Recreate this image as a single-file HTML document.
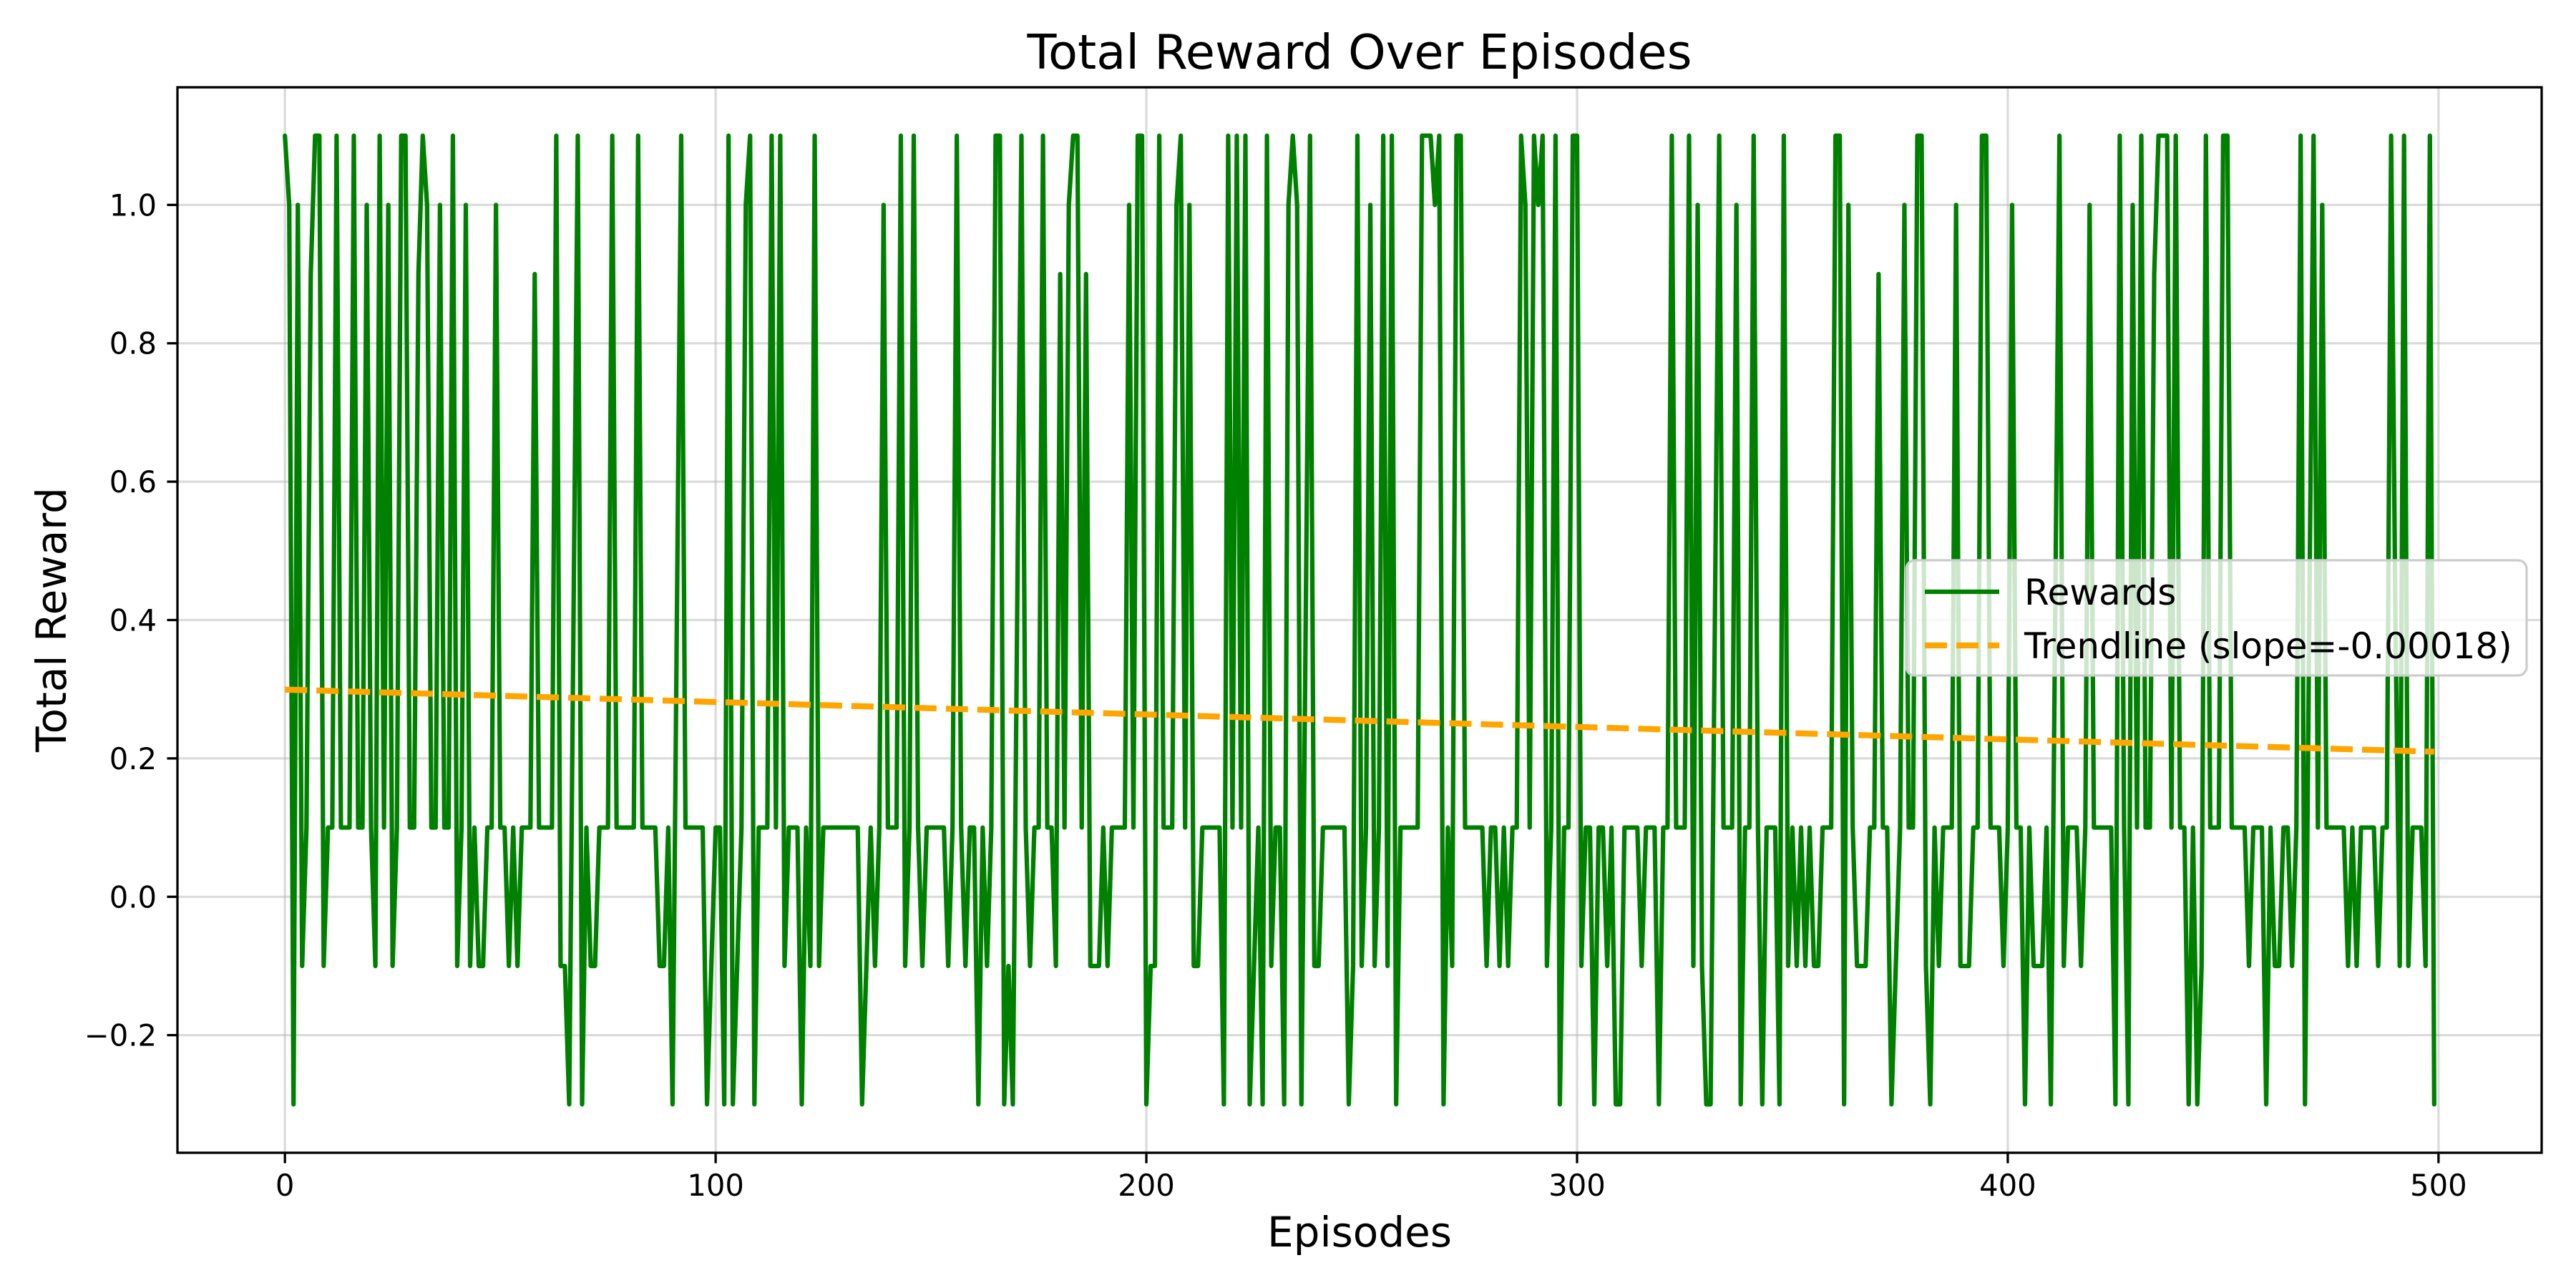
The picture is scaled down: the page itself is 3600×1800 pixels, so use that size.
<!DOCTYPE html>
<html><head><meta charset="utf-8"><title>Total Reward Over Episodes</title>
<style>
html,body{margin:0;padding:0;background:#fff;}
svg{display:block;font-family:"DejaVu Sans","Liberation Sans",sans-serif;}
</style></head>
<body>
<svg id="chart" width="3600" height="1800" viewBox="0 0 3600 1800" xmlns="http://www.w3.org/2000/svg">
  <rect x="0" y="0" width="3600" height="1800" fill="#fff"/>
  <g id="grid"></g>
  <g id="series"></g>
  <rect x="248" y="122" width="3304" height="1489" fill="none" stroke="#000" stroke-width="3.3"/>
  <g id="ticks"></g>
  <text x="1900" y="96" font-size="67" text-anchor="middle">Total Reward Over Episodes</text>
  <text x="1900" y="1742" font-size="58" text-anchor="middle">Episodes</text>
  <text x="0" y="0" font-size="58" text-anchor="middle" transform="translate(92,866) rotate(-90)">Total Reward</text>
  <g>
    <rect x="2664" y="783" width="867" height="161" rx="12" fill="#fff" fill-opacity="0.8" stroke="#cccccc" stroke-width="3.3"/>
    <line x1="2690" y1="827" x2="2794" y2="827" stroke="#008000" stroke-width="6.25"/>
    <text x="2829" y="845" font-size="50">Rewards</text>
    <line x1="2690" y1="902" x2="2794" y2="902" stroke="#ffa500" stroke-width="8.3" stroke-dasharray="31,13"/>
    <text x="2829" y="920" font-size="50">Trendline (slope=-0.00018)</text>
  </g>
</svg>
<script>
const rewards = [
1.1,1.0,-0.3,1.0,-0.1,0.1,0.9,1.1,1.1,-0.1,
0.1,0.1,1.1,0.1,0.1,0.1,1.1,0.1,0.1,1.0,
0.1,-0.1,1.1,0.1,1.0,-0.1,0.1,1.1,1.1,0.1,
0.1,0.9,1.1,1.0,0.1,0.1,1.0,0.1,0.1,1.1,
-0.1,0.1,1.0,-0.1,0.1,-0.1,-0.1,0.1,0.1,1.0,
0.1,0.1,-0.1,0.1,-0.1,0.1,0.1,0.1,0.9,0.1,
0.1,0.1,0.1,1.1,-0.1,-0.1,-0.3,0.4,1.1,-0.3,
0.1,-0.1,-0.1,0.1,0.1,0.1,1.1,0.1,0.1,0.1,
0.1,0.1,1.1,0.1,0.1,0.1,0.1,-0.1,-0.1,0.1,
-0.3,0.4,1.1,0.1,0.1,0.1,0.1,0.1,-0.3,-0.1,
0.1,0.1,-0.3,1.1,-0.3,-0.1,0.1,1.0,1.1,-0.3,
0.1,0.1,0.1,1.1,0.1,1.1,-0.1,0.1,0.1,0.1,
-0.3,0.1,-0.1,1.1,-0.1,0.1,0.1,0.1,0.1,0.1,
0.1,0.1,0.1,0.1,-0.3,-0.1,0.1,-0.1,0.1,1.0,
0.1,0.1,0.1,1.1,-0.1,0.1,1.1,0.1,-0.1,0.1,
0.1,0.1,0.1,0.1,-0.1,0.1,1.1,0.1,-0.1,0.1,
0.1,-0.3,0.1,-0.1,0.1,1.1,1.1,-0.3,-0.1,-0.3,
0.4,1.1,0.1,-0.1,0.1,0.1,1.1,0.1,0.1,-0.1,
0.9,0.1,1.0,1.1,1.1,0.1,0.9,-0.1,-0.1,-0.1,
0.1,-0.1,0.1,0.1,0.1,0.1,1.0,0.1,1.1,1.1,
-0.3,-0.1,-0.1,1.1,0.1,0.1,0.1,1.0,1.1,0.1,
1.0,-0.1,-0.1,0.1,0.1,0.1,0.1,0.1,-0.3,1.1,
0.1,1.1,0.1,1.1,-0.3,-0.1,0.1,-0.3,1.1,-0.1,
0.1,0.1,-0.3,1.0,1.1,1.0,-0.3,0.4,1.1,-0.1,
-0.1,0.1,0.1,0.1,0.1,0.1,0.1,-0.3,-0.1,1.1,
-0.1,0.1,1.0,-0.1,0.1,1.1,-0.1,1.1,-0.3,0.1,
0.1,0.1,0.1,0.1,1.1,1.1,1.1,1.0,1.1,-0.3,
0.1,-0.1,1.1,1.1,0.1,0.1,0.1,0.1,0.1,-0.1,
0.1,0.1,-0.1,0.1,-0.1,0.1,0.1,1.1,1.0,0.1,
1.1,1.0,1.1,-0.1,0.1,1.1,-0.3,0.1,0.1,1.1,
1.1,-0.1,0.1,0.1,-0.3,0.1,0.1,-0.1,0.1,-0.3,
-0.3,0.1,0.1,0.1,0.1,-0.1,0.1,0.1,0.1,-0.3,
0.1,0.1,1.1,0.1,0.1,0.1,1.1,-0.1,1.0,-0.1,
-0.3,-0.3,0.4,1.1,0.1,0.1,0.1,1.0,-0.3,0.1,
0.1,1.1,0.1,-0.3,0.1,0.1,0.1,-0.3,1.1,-0.1,
0.1,-0.1,0.1,-0.1,0.1,-0.1,-0.1,0.1,0.1,0.1,
1.1,1.1,-0.3,1.0,0.1,-0.1,-0.1,-0.1,0.1,0.1,
0.9,0.1,0.1,-0.3,-0.1,0.1,1.0,0.1,0.1,1.1,
1.1,-0.1,-0.3,0.1,-0.1,0.1,0.1,0.1,1.0,-0.1,
-0.1,-0.1,0.1,0.1,1.1,1.1,0.1,0.1,0.1,-0.1,
0.1,1.0,0.1,0.1,-0.3,0.1,-0.1,-0.1,-0.1,0.1,
-0.3,0.4,1.1,-0.1,0.1,0.1,0.1,-0.1,0.1,1.0,
0.1,0.1,0.1,0.1,0.1,-0.3,1.1,0.1,-0.3,1.0,
0.1,1.1,0.1,0.1,0.9,1.1,1.1,1.1,0.1,1.1,
0.1,0.1,-0.3,0.1,-0.3,-0.1,1.1,0.1,0.1,0.1,
1.1,1.1,0.1,0.1,0.1,0.1,-0.1,0.1,0.1,0.1,
-0.3,0.1,-0.1,-0.1,0.1,0.1,-0.1,0.1,1.1,-0.3,
0.4,1.1,0.1,1.0,0.1,0.1,0.1,0.1,0.1,-0.1,
0.1,-0.1,0.1,0.1,0.1,0.1,-0.1,0.1,0.1,1.1,
0.4,-0.1,1.1,-0.1,0.1,0.1,0.1,-0.1,1.1,-0.3
];
const trendIntercept = 0.2995;
const trendSlope = -0.00018;
const xTicks = [0, 100, 200, 300, 400, 500];
const yTicks = [-0.2, 0.0, 0.2, 0.4, 0.6, 0.8, 1.0];
const yTickLabels = ["\u22120.2", "0.0", "0.2", "0.4", "0.6", "0.8", "1.0"];

const NS = "http://www.w3.org/2000/svg";
const PL = 248, PR = 3552, PT = 122, PB = 1611;
const n = rewards.length;
const xMin = -0.05 * (n - 1), xMax = (n - 1) * 1.05;
const yLo = Math.min(...rewards), yHi = Math.max(...rewards);
const yMin = yLo - 0.05 * (yHi - yLo), yMax = yHi + 0.05 * (yHi - yLo);
function xs(v){ return PL + (v - xMin) / (xMax - xMin) * (PR - PL); }
function ys(v){ return PB - (v - yMin) / (yMax - yMin) * (PB - PT); }
function mk(tag, attrs, parent){
  const e = document.createElementNS(NS, tag);
  for (const k in attrs) e.setAttribute(k, attrs[k]);
  parent.appendChild(e);
  return e;
}
const grid = document.getElementById('grid');
const ticks = document.getElementById('ticks');
const series = document.getElementById('series');

xTicks.forEach(function(t){
  const x = xs(t);
  const g = mk('line', {x1:x, y1:PT, x2:x, y2:PB, stroke:'#b0b0b0', 'stroke-opacity':0.45, 'stroke-width':3.3}, grid);
  
  
  const tk = mk('line', {x1:x, y1:PB, x2:x, y2:PB + 14.6, stroke:'#000', 'stroke-width':3.3}, ticks);
  
  
  const lb = mk('text', {x:x, y:PB + 60, 'font-size':41.7, 'text-anchor':'middle'}, ticks);
  lb.textContent = String(t);
  
  
});
yTicks.forEach(function(t, i){
  const y = ys(t);
  const g = mk('line', {x1:PL, y1:y, x2:PR, y2:y, stroke:'#b0b0b0', 'stroke-opacity':0.45, 'stroke-width':3.3}, grid);
  
  
  const tk = mk('line', {x1:PL - 14.6, y1:y, x2:PL, y2:y, stroke:'#000', 'stroke-width':3.3}, ticks);
  
  
  const lb = mk('text', {x:PL - 29, y:y + 15, 'font-size':41.7, 'text-anchor':'end'}, ticks);
  lb.textContent = yTickLabels[i];
  
  
});

const pts = rewards.map(function(v, i){ return xs(i).toFixed(2) + ',' + ys(v).toFixed(2); }).join(' ');
const rl = mk('polyline', {points:pts, fill:'none', stroke:'#008000', 'stroke-width':6.25, 'stroke-linejoin':'round', 'stroke-linecap':'round'}, series);



const tl = mk('line', {x1:xs(0), y1:ys(trendIntercept), x2:xs(n - 1), y2:ys(trendIntercept + trendSlope * (n - 1)), stroke:'#ffa500', 'stroke-width':8.3, 'stroke-dasharray':'31,13'}, series);


</script>
</body></html>
